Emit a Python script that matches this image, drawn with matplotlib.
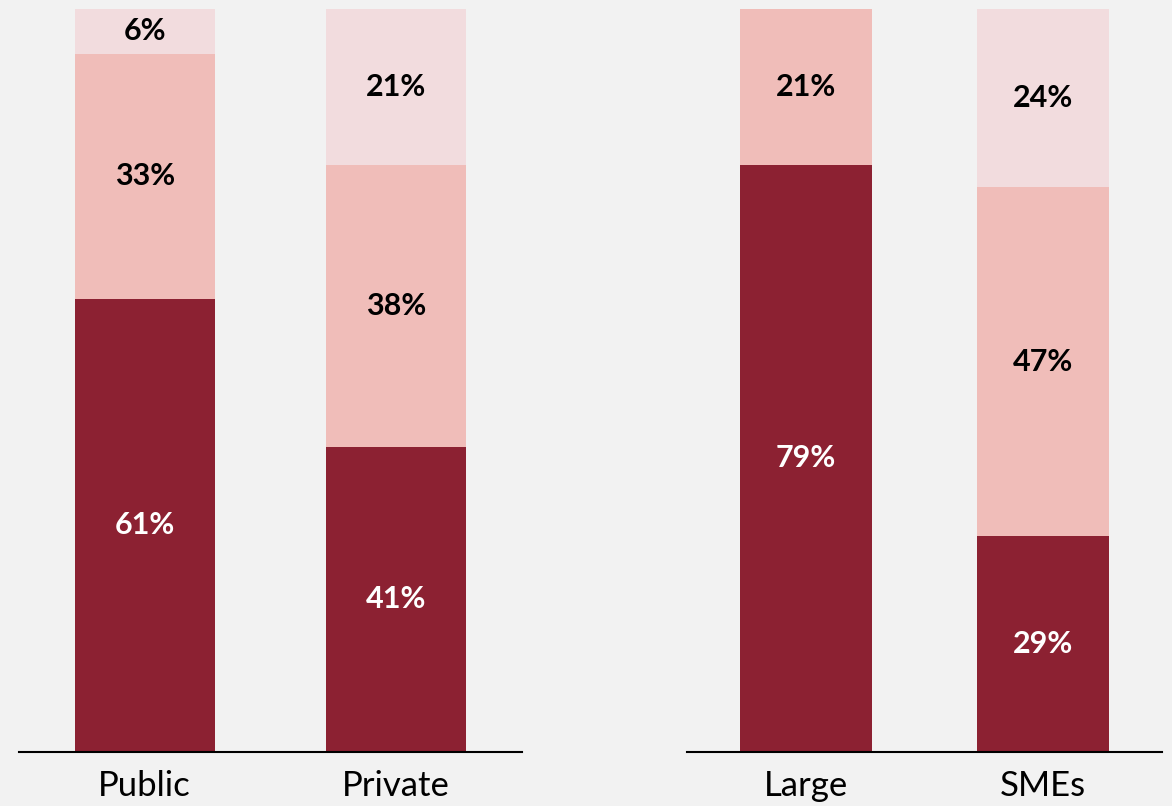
import matplotlib
matplotlib.use("Agg")
import matplotlib.pyplot as plt
import numpy as np

# Data (percent shares, bottom to top)
left_cats = ["Public", "Private"]
left_dark = [61, 41]
left_mid = [33, 38]
left_light = [6, 21]

right_cats = ["Large", "SMEs"]
right_dark = [79, 29]
right_mid = [21, 47]
right_light = [0, 24]

BG = "#F2F2F2"
DARK = "#8C2132"
MID = "#F0BDB9"
LIGHT = "#F2DCDE"

plt.rcParams["font.family"] = ["Lato", "DejaVu Sans"]

fig = plt.figure(figsize=(11.72, 8.06), dpi=100)
fig.patch.set_facecolor(BG)


def stacked(ax, cats, dark, mid, light):
    ax.set_facecolor(BG)
    x = np.arange(len(cats))
    w = 0.556
    dark = np.array(dark)
    mid = np.array(mid)
    light = np.array(light)
    layers = [(dark, np.zeros_like(dark), DARK, "white"),
              (mid, dark, MID, "black"),
              (light, dark + mid, LIGHT, "black")]
    for vals, bottom, color, tcol in layers:
        ax.bar(x, vals, w, bottom=bottom, color=color, linewidth=0)
        for xi, v, b in zip(x, vals, bottom):
            if v > 0:
                ax.text(xi, b + v / 2, f"{v}%", ha="center", va="center",
                        color=tcol, fontsize=22, fontweight="bold")
    ax.set_xlim(-0.5, 1.5)
    ax.set_ylim(0, 100)
    ax.set_xticks(x)
    ax.set_xticklabels(cats, fontsize=25)
    ax.tick_params(axis="x", length=0, pad=13)
    ax.set_yticks([])
    for s in ["top", "right", "left"]:
        ax.spines[s].set_visible(False)
    ax.spines["bottom"].set_linewidth(1.5)


ax1 = fig.add_axes([0.0162, 0.0676, 0.4292, 0.9212])
stacked(ax1, left_cats, left_dark, left_mid, left_light)

ax2 = fig.add_axes([0.5862, 0.0676, 0.4053, 0.9212])
stacked(ax2, right_cats, right_dark, right_mid, right_light)

fig.savefig("out.png", dpi=100, facecolor=BG)
